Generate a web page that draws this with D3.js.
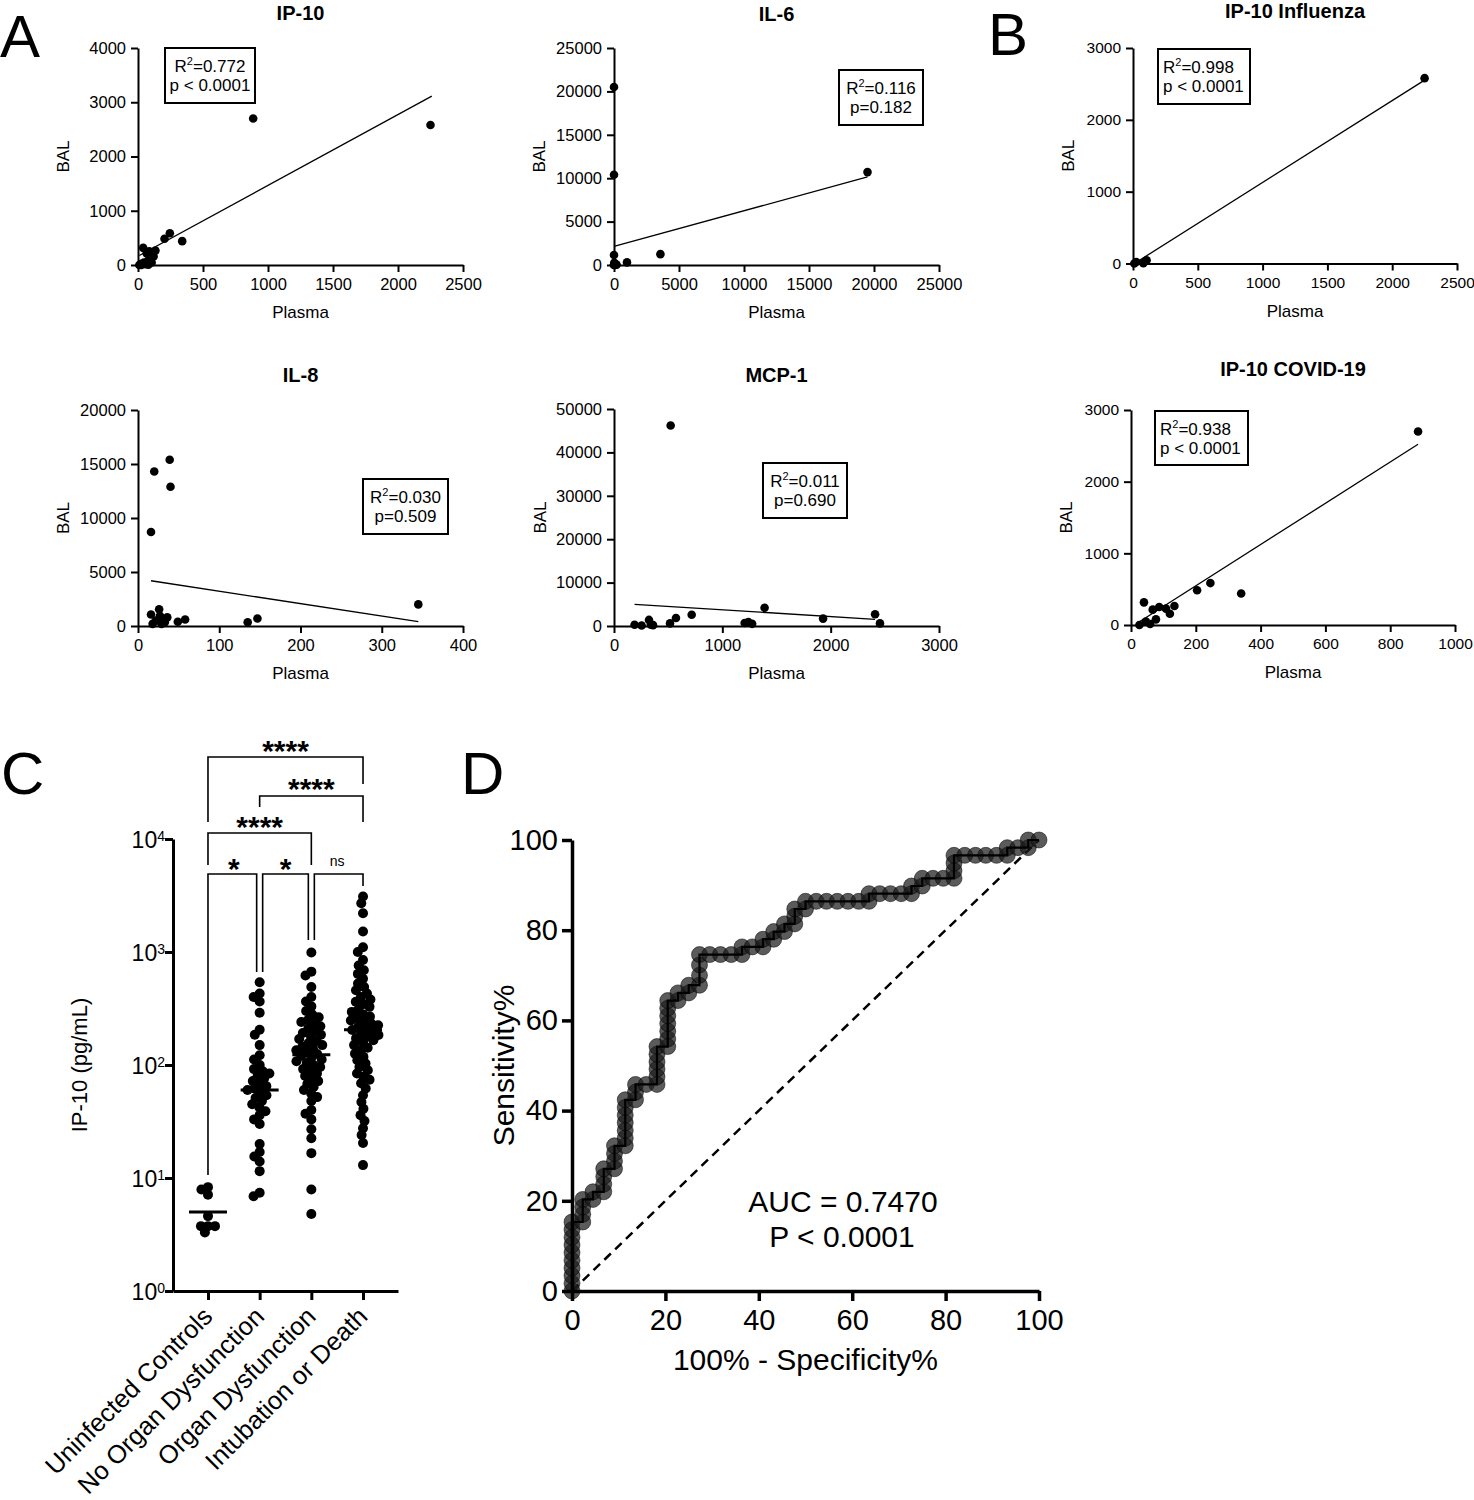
<!DOCTYPE html>
<html><head><meta charset="utf-8">
<script src="https://cdn.jsdelivr.net/npm/d3@7"></script>
<style>
body{margin:0;background:#fff}
svg{display:block}
text{font-family:"Liberation Sans",Arial,Helvetica,sans-serif;fill:#000}
</style>
</head><body>
<svg id="chart" width="1474" height="1500"></svg>
<script>
// ================= DATA =================
// Panel A / B scatter data (Plasma vs BAL)
const covidPlasma = [886, 340, 245, 204, 40, 134, 108, 87, 67, 120, 77, 46, 59, 26];
const covidBAL    = [2700, 440, 585, 484, 316, 265, 228, 251, 214, 158, 79, 47, 14, 0];
const fluPlasma   = [2250, 10, 25, 80, 105];
const fluBAL      = [2580, 0, 20, 5, 45];
const ip10Plasma  = covidPlasma.concat(fluPlasma);
const ip10BAL     = covidBAL.concat(fluBAL);
const il6Plasma   = [0, 0, 19500, 3570, 1000, 0, 0, 30, 60, 100, 150, 200, 20, 80, 40, 120, 10];
const il6BAL      = [20500, 10400, 10700, 1250, 300, 1150, 0, 50, 20, 120, 60, 30, 250, 10, 150, 80, 40];
const il8Plasma   = [20, 39, 40, 16, 345, 147, 135, 58, 49, 16, 26, 36, 27, 31, 18, 29, 22, 33];
const il8BAL      = [14300, 15400, 12900, 8700, 2000, 700, 350, 600, 400, 1070, 1550, 800, 950, 600, 200, 200, 500, 350];
const mcp1Plasma  = [523, 1390, 2410, 1930, 717, 572, 323, 190, 255, 340, 360, 517, 1206, 1240, 1275, 2455];
const mcp1BAL     = [46200, 4200, 2700, 1700, 2600, 1850, 1400, 300, 100, 300, 200, 600, 700, 900, 500, 600];

// regression lines: [intercept, slope, xFrom, xTo]
const fitIP10  = [163, 1.305, 10, 2260];
const fitIL6   = [2150, 0.41, 0, 19500];
const fitFlu   = [-12, 1.14, 10, 2250];
const fitIL8   = [4374, -11.5, 16, 345];
const fitMCP1  = [5296, -1.56, 190, 2410];
const fitCOVID = [-30, 2.88, 26, 886];

const scatterTitles = ["IP-10", "IL-6", "IP-10 Influenza", "IL-8", "MCP-1", "IP-10 COVID-19"];
const statsR2 = ["0.772", "0.116", "0.998", "0.030", "0.011", "0.938"];
const statsP  = ["p < 0.0001", "p=0.182", "p < 0.0001", "p=0.509", "p=0.690", "p < 0.0001"];

const ticksIP10X = [0, 500, 1000, 1500, 2000, 2500];
const ticksIP10Y = [0, 1000, 2000, 3000, 4000];
const ticksIL6   = [0, 5000, 10000, 15000, 20000, 25000];
const ticksFluX  = [0, 500, 1000, 1500, 2000, 2500];
const ticksFluY  = [0, 1000, 2000, 3000];
const ticksIL8X  = [0, 100, 200, 300, 400];
const ticksIL8Y  = [0, 5000, 10000, 15000, 20000];
const ticksMCPX  = [0, 1000, 2000, 3000];
const ticksMCPY  = [0, 10000, 20000, 30000, 40000, 50000];
const ticksCovX  = [0, 200, 400, 600, 800, 1000];
const ticksCovY  = [0, 1000, 2000, 3000];

// Panel C: IP-10 (pg/mL) by group
const groups = ["Uninfected Controls", "No Organ Dysfunction", "Organ Dysfunction", "Intubation or Death"];
const ctrlValues = [8.3, 7.9, 7.1, 4.6, 3.75, 3.75, 3.75, 3.3];
const noODValues = [540, 430, 400, 365, 290, 205, 185, 150, 122, 112, 100, 92, 88, 84, 80, 76, 72, 68, 65, 62,
                    60, 57, 54, 51, 48, 45, 42, 39, 36, 33, 30, 20, 17, 15.5, 14, 11.5, 7.4, 6.9];
const odValues   = [990, 670, 620, 490, 400, 365, 330, 300, 280, 265, 250, 240, 230, 220, 210, 200, 192, 185, 178, 170,
                    163, 156, 150, 145, 140, 135, 130, 125, 120, 116, 112, 108, 104, 100, 96, 92, 88, 84, 80, 76,
                    72, 68, 64, 60, 56, 52, 48, 40, 37, 33, 27, 22.5, 16.6, 7.9, 4.8];
const intubValues = [3100, 2700, 2200, 1520, 1100, 1000, 850, 760, 690, 640, 580, 525, 490, 458, 430, 400, 380, 363, 345, 327,
                     310, 295, 280, 268, 258, 248, 240, 233, 225, 218, 210, 204, 197, 190, 184, 178, 172, 166, 158, 150,
                     142, 135, 126, 118, 110, 103, 96, 90, 84, 79, 74, 69, 62, 54, 47, 41, 36, 32, 27.6, 24, 20.4, 13];
const groupMedians = [5.0, 60, 123, 205];
const logTicks = [1, 10, 100, 1000, 10000];
const comparisons = [[0, 3, "****"], [1, 3, "****"], [0, 2, "****"], [0, 1, "*"], [1, 2, "*"], [2, 3, "ns"]];

// Panel D: ROC curve
const rocFPR  = [0,0,0,0,0,0,0,0,0,0, 2.3,2.3,2.3,2.3, 4.5,4.5, 6.8,6.8,6.8,6.8, 9.1,9.1,9.1,9.1,
                 11.4,11.4,11.4,11.4,11.4,11.4,11.4, 13.6,13.6,13.6, 15.9, 18.2,18.2,18.2,18.2,18.2,18.2,
                 20.5,20.5,20.5,20.5,20.5,20.5,20.5, 22.7,22.7, 25,25, 27.3,27.3,27.3,27.3,
                 29.5,31.8,34.1,36.4,36.4,38.6,40.9,40.9,43.2,43.2,45.5,45.5,47.7,47.7,47.7,50,50,
                 52.3,54.5,56.8,59.1,61.4,63.6,63.6,65.9,68.2,70.5,72.7,72.7,75,75,77.3,79.5,
                 81.8,81.8,81.8,81.8,84.1,86.4,88.6,90.9,93.2,93.2,95.5,97.7,97.7,100];
const rocSens = [0,1.7,3.4,5.1,6.8,8.5,10.2,11.9,13.6,15.3, 15.3,17,18.6,20.3, 20.3,22, 22,23.7,25.4,27.1,
                 27.1,28.8,30.5,32.2, 32.2,33.9,35.6,37.3,39,40.7,42.4, 42.4,44.1,45.8, 45.8,
                 45.8,47.5,49.2,50.8,52.5,54.2, 54.2,55.9,57.6,59.3,61,62.7,64.4, 64.4,66.1, 66.1,67.8,
                 67.8,70,72.3,74.6, 74.6,74.6,74.6,74.6,76.3,76.3,76.3,78,78,79.7,79.7,81.4,81.4,83.1,84.7,84.7,86.4,
                 86.4,86.4,86.4,86.4,86.4,86.4,88.1,88.1,88.1,88.1,88.1,89.8,89.8,91.5,91.5,91.5,
                 91.5,93.2,94.9,96.6,96.6,96.6,96.6,96.6,96.6,98.3,98.3,98.3,100,100];
const rocTicks = [0, 20, 40, 60, 80, 100];

// ================= DRAW =================
const svg = d3.select("#chart");
const FONT = '"Liberation Sans", Arial, Helvetica, sans-serif';

function styleAxis(g, fs, sw) {
  g.attr("font-size", fs).attr("font-family", FONT);
  g.select(".domain").attr("stroke", "#000").attr("stroke-width", sw);
  g.selectAll(".tick line").attr("stroke", "#000").attr("stroke-width", sw);
  g.selectAll(".tick text").attr("fill", "#000");
}

// ---------- scatter panels ----------
const scatterCfg = [
  {xs: ip10Plasma, ys: ip10BAL, fit: fitIP10, xT: ticksIP10X, yT: ticksIP10Y, L:138, R:463, T:48, B:265, titleY:19.5, balX:63, fs:16.5, box:[165,48,90,55,"middle"]},
  {xs: il6Plasma, ys: il6BAL, fit: fitIL6, xT: ticksIL6, yT: ticksIL6, L:614, R:939, T:48, B:265, titleY:20.5, balX:539, fs:16.5, box:[839,70,84,55,"middle"]},
  {xs: fluPlasma, ys: fluBAL, fit: fitFlu, xT: ticksFluX, yT: ticksFluY, L:1133, R:1457, T:48, B:263.5, titleY:17.5, balX:1068, fs:15.5, box:[1158,49,92,55,"start"]},
  {xs: il8Plasma, ys: il8BAL, fit: fitIL8, xT: ticksIL8X, yT: ticksIL8Y, L:138, R:463, T:410, B:626, titleY:382, balX:63, fs:16.5, box:[363,479,85,55,"middle"]},
  {xs: mcp1Plasma, ys: mcp1BAL, fit: fitMCP1, xT: ticksMCPX, yT: ticksMCPY, L:614, R:939, T:409, B:626, titleY:382, balX:540, fs:16.5, box:[763,463,84,55,"middle"]},
  {xs: covidPlasma, ys: covidBAL, fit: fitCOVID, xT: ticksCovX, yT: ticksCovY, L:1131, R:1455, T:410, B:625, titleY:376, balX:1066, fs:15.5, box:[1155,411,93,54,"start"]}
];

scatterCfg.forEach((c, i) => {
  const x = d3.scaleLinear().domain([0, d3.max(c.xT)]).range([c.L, c.R]);
  const y = d3.scaleLinear().domain([0, d3.max(c.yT)]).range([c.B, c.T]);
  const g = svg.append("g");
  const xa = g.append("g").attr("transform", `translate(0,${c.B})`)
    .call(d3.axisBottom(x).tickValues(c.xT).tickSize(7).tickSizeOuter(0).tickPadding(6).tickFormat(d => String(d)));
  styleAxis(xa, c.fs, 2);
  const ya = g.append("g").attr("transform", `translate(${c.L},0)`)
    .call(d3.axisLeft(y).tickValues(c.yT).tickSize(7).tickSizeOuter(0).tickPadding(5).tickFormat(d => String(d)));
  styleAxis(ya, c.fs, 2);

  // regression line
  const [b0, b1, xf, xt] = c.fit;
  g.append("line")
    .attr("x1", x(xf)).attr("y1", y(b0 + b1 * xf))
    .attr("x2", x(xt)).attr("y2", y(b0 + b1 * xt))
    .attr("stroke", "#000").attr("stroke-width", 1.3);

  // points
  g.selectAll("circle.pt").data(c.xs.map((v, k) => [v, c.ys[k]])).join("circle")
    .attr("class", "pt").attr("cx", d => x(d[0])).attr("cy", d => y(d[1])).attr("r", 4.3).attr("fill", "#000");

  // title
  g.append("text").attr("x", (c.L + c.R) / 2).attr("y", c.titleY).attr("text-anchor", "middle")
    .attr("font-size", 20).attr("font-weight", "bold").text(scatterTitles[i]);
  // x label
  g.append("text").attr("x", (c.L + c.R) / 2).attr("y", c.B + 53).attr("text-anchor", "middle")
    .attr("font-size", 17).text("Plasma");
  // y label
  g.append("text").attr("transform", `translate(${c.balX},${(c.T + c.B) / 2}) rotate(-90)`)
    .attr("text-anchor", "middle").attr("dy", "0.35em").attr("font-size", 17).text("BAL");

  // stats box
  const [bx, by, bw, bh, anchor] = c.box;
  g.append("rect").attr("x", bx).attr("y", by).attr("width", bw).attr("height", bh)
    .attr("fill", "#fff").attr("stroke", "#000").attr("stroke-width", 2);
  const tx = anchor === "middle" ? bx + bw / 2 : bx + 5;
  const t1 = g.append("text").attr("x", tx).attr("y", by + 24).attr("text-anchor", anchor).attr("font-size", 17);
  t1.append("tspan").text("R");
  t1.append("tspan").attr("dy", -7).attr("font-size", 11).text("2");
  t1.append("tspan").attr("dy", 7).text("=" + statsR2[i]);
  g.append("text").attr("x", tx).attr("y", by + 43).attr("text-anchor", anchor).attr("font-size", 17).text(statsP[i]);
});

// ---------- Panel C ----------
(function () {
  const L = 173, R = 398, T = 839, B = 1291;
  const x = d3.scalePoint().domain(groups).range([L, R]).padding(0.677);
  const y = d3.scaleLog().domain([1, 10000]).range([B, T]);
  const g = svg.append("g");

  const ya = g.append("g").attr("transform", `translate(${L},0)`)
    .call(d3.axisLeft(y).tickValues(logTicks).tickSize(8).tickSizeOuter(0).tickPadding(0));
  styleAxis(ya, 23, 3);
  ya.selectAll(".tick text").each(function (d) {
    const t = d3.select(this);
    t.text(null).attr("dy", "0.36em");
    t.append("tspan").text("10");
    t.append("tspan").attr("dy", "-0.45em").attr("font-size", 14).text(String(Math.round(Math.log10(d))));
  });

  const xa = g.append("g").attr("transform", `translate(0,${B})`)
    .call(d3.axisBottom(x).tickSize(9).tickSizeOuter(0).tickFormat(""));
  styleAxis(xa, 25, 3);
  xa.selectAll(".tick text").remove();
  groups.forEach(gr => {
    g.append("text").attr("transform", `translate(${x(gr) + 6},${B + 27}) rotate(-45)`)
      .attr("text-anchor", "end").attr("font-size", 25.5).text(gr);
  });

  g.append("text").attr("transform", `translate(79,${(T + B) / 2}) rotate(-90)`)
    .attr("text-anchor", "middle").attr("dy", "0.35em").attr("font-size", 22).text("IP-10 (pg/mL)");

  // beeswarm
  function beeswarm(ys, s) {
    const order = d3.range(ys.length).sort((a, b) => ys[a] - ys[b]);
    const xs = new Array(ys.length);
    const placed = [];
    for (const i of order) {
      const yy = ys[i];
      const ivs = [];
      for (const j of placed) {
        const dy = Math.abs(ys[j] - yy);
        if (dy < s) { const dx = Math.sqrt(s * s - dy * dy); ivs.push([xs[j] - dx, xs[j] + dx]); }
      }
      const cands = [0];
      ivs.forEach(([a, b]) => cands.push(a, b));
      cands.sort((a, b) => Math.abs(a) - Math.abs(b) || a - b);
      let best = 0;
      for (const cc of cands) {
        if (ivs.every(([a, b]) => cc <= a + 1e-6 || cc >= b - 1e-6)) { best = cc; break; }
      }
      xs[i] = best; placed.push(i);
    }
    return xs;
  }
  const allValues = [ctrlValues, noODValues, odValues, intubValues];
  allValues.forEach((vals, gi) => {
    const py = vals.map(v => y(v));
    const off = beeswarm(py, 7);
    const cx = x(groups[gi]);
    g.selectAll(null).data(vals.map((v, k) => [cx + off[k], py[k]])).join("circle")
      .attr("cx", d => d[0]).attr("cy", d => d[1]).attr("r", 5).attr("fill", "#000");
    g.append("line").attr("x1", cx - 19).attr("x2", cx + 19)
      .attr("y1", y(groupMedians[gi])).attr("y2", y(groupMedians[gi]))
      .attr("stroke", "#000").attr("stroke-width", 3);
  });

  // significance brackets (layout: bar y, left leg end, right leg end, label center y, x insets)
  const bracketLayout = [
    {hy: 757, ly: 822, ry: 784, ty: 744, li: 0, ri: 0},
    {hy: 796, ly: 807, ry: 822, ty: 782, li: 0, ri: 0},
    {hy: 833, ly: 865, ry: 865, ty: 820, li: 0, ri: 0},
    {hy: 874, ly: 1175, ry: 972, ty: 862, li: 0, ri: -3},
    {hy: 874, ly: 972, ry: 940, ty: 862, li: 3, ri: -3},
    {hy: 874, ly: 940, ry: 886, ty: 862, li: 3, ri: 0}
  ];
  comparisons.forEach(([a, b, lab], k) => {
    const bl = bracketLayout[k];
    const xa_ = x(groups[a]) + bl.li, xb_ = x(groups[b]) + bl.ri;
    g.append("path")
      .attr("d", `M${xa_},${bl.ly}V${bl.hy}H${xb_}V${bl.ry}`)
      .attr("fill", "none").attr("stroke", "#000").attr("stroke-width", 1.6);
    const mx = (x(groups[a]) + x(groups[b])) / 2;
    if (lab === "ns") {
      g.append("text").attr("x", mx).attr("y", bl.ty + 4).attr("text-anchor", "middle").attr("font-size", 14).text(lab);
    } else {
      g.append("text").attr("x", mx).attr("y", bl.ty + 17).attr("text-anchor", "middle")
        .attr("font-size", 30).attr("font-weight", "bold").text(lab);
    }
  });
})();

// ---------- Panel D ----------
(function () {
  const L = 572, R = 1039, T = 840, B = 1291;
  const x = d3.scaleLinear().domain([0, 100]).range([L, R]);
  const y = d3.scaleLinear().domain([0, 100]).range([B, T]);
  const g = svg.append("g");

  g.append("line").attr("x1", x(0)).attr("y1", y(0)).attr("x2", x(100)).attr("y2", y(100))
    .attr("stroke", "#000").attr("stroke-width", 2.5).attr("stroke-dasharray", "9,6");

  const pts = rocFPR.map((v, k) => [v, rocSens[k]]);
  g.selectAll(null).data(pts).join("circle")
    .attr("cx", d => x(d[0])).attr("cy", d => y(d[1])).attr("r", 8)
    .attr("fill", "#1c1c1c").attr("fill-opacity", 0.72)
    .attr("stroke", "#000").attr("stroke-opacity", 0.5).attr("stroke-width", 1);
  g.append("path").datum(pts)
    .attr("d", d3.line().x(d => x(d[0])).y(d => y(d[1])))
    .attr("fill", "none").attr("stroke", "#000").attr("stroke-width", 2.2);

  const xa = g.append("g").attr("transform", `translate(0,${B})`)
    .call(d3.axisBottom(x).tickValues(rocTicks).tickSize(10).tickSizeOuter(0).tickPadding(8));
  styleAxis(xa, 29, 3.5);
  const ya = g.append("g").attr("transform", `translate(${L},0)`)
    .call(d3.axisLeft(y).tickValues(rocTicks).tickSize(10).tickSizeOuter(0).tickPadding(4));
  styleAxis(ya, 29, 3.5);

  g.append("text").attr("x", (L + R) / 2).attr("y", 1370).attr("text-anchor", "middle")
    .attr("font-size", 30).text("100% - Specificity%");
  g.append("text").attr("transform", `translate(503,${(T + B) / 2}) rotate(-90)`)
    .attr("text-anchor", "middle").attr("dy", "0.35em").attr("font-size", 30).text("Sensitivity%");
  g.append("text").attr("x", 843).attr("y", 1212).attr("text-anchor", "middle").attr("font-size", 30).text("AUC = 0.7470");
  g.append("text").attr("x", 842).attr("y", 1247).attr("text-anchor", "middle").attr("font-size", 30).text("P < 0.0001");
})();

// ---------- Panel letters ----------
[["A", 0, 57], ["B", 988, 55], ["C", 1, 794], ["D", 461, 794]].forEach(([t, px, py]) => {
  svg.append("text").attr("x", px).attr("y", py).attr("font-size", 60).text(t);
});
</script>
</body></html>
